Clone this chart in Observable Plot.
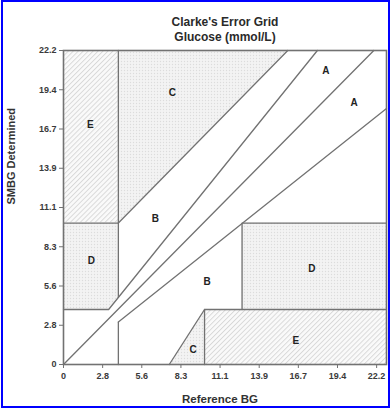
<!DOCTYPE html>
<html><head><meta charset="utf-8">
<script src="https://cdn.jsdelivr.net/npm/d3@7"></script>
<script src="https://cdn.jsdelivr.net/npm/@observablehq/plot@0.6"></script>
<style>
body{margin:0;background:#fff;}
#wrap{position:relative;width:390px;height:411px;overflow:hidden;background:#fff;}
#border{position:absolute;left:1px;top:0;width:385px;height:404px;border:2px solid #0000ff;pointer-events:none;}
#chart{position:absolute;left:0;top:0;}
#chart svg text{font-weight:bold;}
</style></head><body>
<div id="wrap"><div id="chart"></div><div id="border"></div></div>
<script>
// tick positions (mmol/L equivalents of 0..400 mg/dL) and their labels
const tickValues = [0, 2.775, 5.55, 8.325, 11.1, 13.875, 16.65, 19.425, 22.2];
const tickLabels = ["0", "2.8", "5.6", "8.3", "11.1", "13.9", "16.7", "19.4", "22.2"];

// zone boundary polylines [x, y] in mmol/L
const lineIdentity = [[0, 0], [22.0, 22.2]];
const lineUpperA = [[0, 3.89], [3.2, 3.89], [18.0, 22.2]];
const lineUpperC = [[3.89, 10], [15.9, 22.2]];
const lineVertUpper = [[3.89, 4.75], [3.89, 22.2]];
const lineUpperDE = [[0, 10], [3.89, 10]];
const lineVertLower = [[3.89, 0], [3.89, 3.0]];
const lineLowerA = [[3.89, 3.0], [22.9, 18.1]];
const lineLowerC = [[7.5, 0], [10, 3.89]];
const lineLowerE = [[10, 0], [10, 3.89], [22.9, 3.89]];
const lineRightD = [[12.66, 3.89], [12.66, 10], [22.9, 10]];
const boundaries = [lineIdentity, lineUpperA, lineUpperC, lineVertUpper, lineUpperDE,
  lineVertLower, lineLowerA, lineLowerC, lineLowerE, lineRightD];

// shaded zones
const hatchRects = [
  {x1: 0, x2: 3.89, y1: 10, y2: 22.2},      // upper E
  {x1: 10, x2: 22.9, y1: 0, y2: 3.89}       // lower E
];
const dotRects = [
  {x1: 12.66, x2: 22.9, y1: 3.89, y2: 10}   // right D
];
const zoneDLeft = [{x: 0, lo: 3.89, hi: 10}, {x: 3.2, lo: 3.89, hi: 10}, {x: 3.89, lo: 4.75, hi: 10}];
const zoneCUpper = [{x: 3.89, lo: 10, hi: 22.2}, {x: 15.9, lo: 22.2, hi: 22.2}];
const zoneCLower = [{x: 7.5, lo: 0, hi: 0}, {x: 10, lo: 0, hi: 3.89}];

// zone letters
const zoneLabels = [
  {x: 1.91, y: 16.97, t: "E"},
  {x: 7.71, y: 19.24, t: "C"},
  {x: 18.6, y: 20.75, t: "A"},
  {x: 20.6, y: 18.5, t: "A"},
  {x: 6.51, y: 10.33, t: "B"},
  {x: 1.98, y: 7.36, t: "D"},
  {x: 10.18, y: 5.85, t: "B"},
  {x: 17.6, y: 6.8, t: "D"},
  {x: 9.19, y: 1.06, t: "C"},
  {x: 16.48, y: 1.7, t: "E"}
];

const titleLines = ["Clarke's Error Grid", "Glucose (mmol/L)"];
const xLabel = "Reference BG";
const yLabel = "SMBG Determined";

const lineData = boundaries.flatMap((pts, id) => pts.map(([x, y]) => ({x, y, id})));
const fmt = d => tickLabels[tickValues.indexOf(d)];
const gray = "#727272";

const chart = Plot.plot({
  width: 390, height: 411,
  marginLeft: 63, marginRight: 4, marginTop: 50, marginBottom: 47,
  x: {domain: [0, 22.9]},
  y: {domain: [0, 22.2]},
  style: {fontFamily: "Liberation Sans, Arial, sans-serif", fontSize: "9px", background: "transparent"},
  marks: [
    Plot.rect(hatchRects, {x1: "x1", x2: "x2", y1: "y1", y2: "y2", fill: "url(#hatch)"}),
    Plot.rect(dotRects, {x1: "x1", x2: "x2", y1: "y1", y2: "y2", fill: "url(#dots)"}),
    Plot.areaY(zoneDLeft, {x: "x", y1: "lo", y2: "hi", fill: "url(#dots)"}),
    Plot.areaY(zoneCUpper, {x: "x", y1: "lo", y2: "hi", fill: "url(#dots)"}),
    Plot.areaY(zoneCLower, {x: "x", y1: "lo", y2: "hi", fill: "url(#dots)"}),
    Plot.line(lineData, {x: "x", y: "y", z: "id", stroke: gray, strokeWidth: 1.3}),
    Plot.frame({stroke: gray, strokeWidth: 1.6}),
    Plot.axisX(tickValues, {tickFormat: fmt, tickSize: 4, tickPadding: 4, label: null, stroke: gray, fill: "#3a3a3a"}),
    Plot.axisY(tickValues, {tickFormat: fmt, tickSize: 4, tickPadding: 3, label: null, stroke: gray, fill: "#3a3a3a"}),
    Plot.text(zoneLabels, {x: "x", y: "y", text: "t", fontSize: 10, fill: "#222"}),
    Plot.text([titleLines[0]], {frameAnchor: "top", dy: -33, fontSize: 12, fill: "#2a2a2a"}),
    Plot.text([titleLines[1]], {frameAnchor: "top", dy: -18, fontSize: 12, fill: "#2a2a2a"}),
    Plot.text([xLabel], {frameAnchor: "bottom", dx: -5, dy: 38, fontSize: 11.5, fill: "#333"}),
    Plot.text([yLabel], {frameAnchor: "left", dx: -52, dy: -3, rotate: -90, fontSize: 11, fill: "#333"})
  ]
});

d3.select(chart).insert("defs", ":first-child").html(
  `<pattern id="hatch" width="3.5" height="3.5" patternUnits="userSpaceOnUse" patternTransform="rotate(45)">
     <rect width="3.5" height="3.5" fill="#fafafa"/>
     <line x1="0.5" y1="0" x2="0.5" y2="3.5" stroke="#d2d2d2" stroke-width="0.8"/>
   </pattern>
   <pattern id="dots" width="3" height="3" patternUnits="userSpaceOnUse">
     <rect width="3" height="3" fill="#f3f3f3"/>
     <circle cx="1.5" cy="1.5" r="0.65" fill="#dcdcdc"/>
   </pattern>`
);

document.getElementById("chart").appendChild(chart);
</script>
</body></html>
